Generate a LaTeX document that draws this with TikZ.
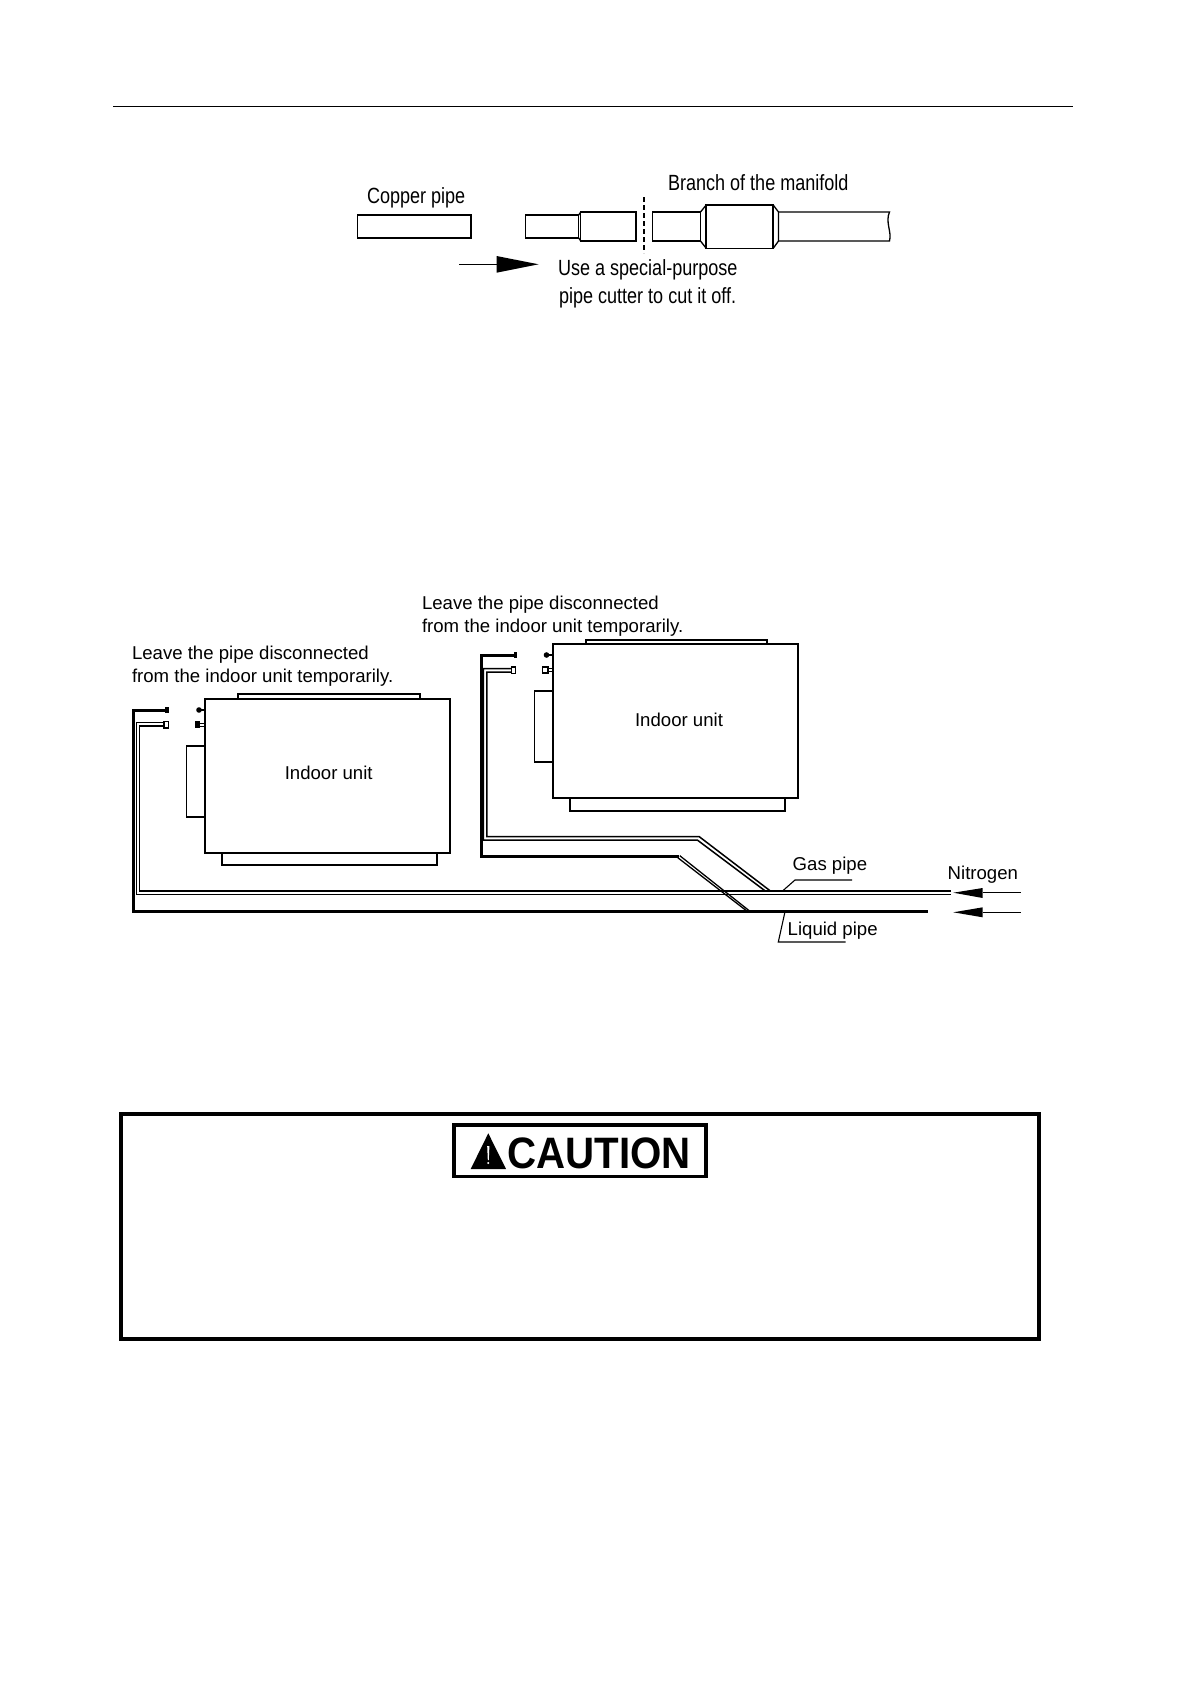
\documentclass[tikz,border=0pt]{standalone}
\usepackage{fontspec}
\setmainfont{Liberation Sans}
\newcommand{\sq}[2]{\scalebox{#1}[1]{#2}}
\tikzset{
  x=1pt,y=-1pt,
  lbl/.style={anchor=base west,inner sep=0pt,outer sep=0pt,font=\fontsize{18.6}{22}\selectfont},
  tall/.style={lbl,font=\fontsize{22}{26}\selectfont},
  clbl/.style={lbl,anchor=base},
  thinl/.style={line width=1.5pt,line join=miter},
  box/.style={line width=1.7pt,draw=black,fill=white},
  heavy/.style={line width=3pt,line join=miter},
  leader/.style={line width=1.1pt}
}
\begin{document}
\begin{tikzpicture}
\fill[white] (0,0) rectangle (1191,1684);
\path[use as bounding box] (0,0) rectangle (1191,1684);
% header rule
\draw[line width=1.1pt] (113,106.5) -- (1073,106.5);

% ---- top sketch
\node[tall] (copper) at (367,203) {\sq{.82}{Copper pipe}};
\node[tall] (branch) at (668,190.5) {\sq{.82}{Branch of the manifold}};
\node[tall] (use) at (558,275.5) {\sq{.82}{Use a special-purpose}};
\node[tall] (cutter) at (559,303) {\sq{.82}{pipe cutter to cut it off.}};
\draw[box,line width=1.3pt] (357.5,215) rectangle (471,238);
\draw[box,line width=1.3pt] (525.6,215) rectangle (578.8,238);
\draw[thinl,line width=1.3pt] (578.8,215) -- (580.7,212) (578.8,238) -- (580.7,241);
\draw[box,line width=1.3pt] (580.7,212) rectangle (636,241);
\draw[line width=1.5pt,dash pattern=on 5pt off 3pt] (644.2,197) -- (644.2,253);
\draw[thinl,line width=1.3pt] (700.5,212) -- (652.2,212) -- (652.2,241) -- (700.5,241) -- cycle;
\draw[thinl,line width=1.3pt] (700.5,212) -- (706.2,205) (700.5,241) -- (706.2,248.3);
\draw[box,line width=1.5pt] (706.2,205) rectangle (773.2,248.3);
\draw[thinl,line width=1.3pt] (773.2,205) -- (778.5,212) (773.2,248.3) -- (778.5,241) (778.5,212) -- (778.5,241);
\draw[thinl,line width=1.3pt] (778.5,212) -- (889.5,212) .. controls (885,222) and (892,232) .. (889.5,241) -- (778.5,241);
\coordinate (a1s) at (459.4,264.3);
\coordinate (a1b) at (496.5,264.3);
\coordinate (a1t) at (538.6,264.3);
\draw[line width=1.2pt] (a1s) -- (a1b);
\fill (496.5,256) -- (a1t) -- (496.5,272.7) -- cycle;

% ---- lower indoor unit
\draw[box] (237.7,694.3) rectangle (419.7,700);
\draw[box] (222,850) rectangle (437,865.3);
\draw[box] (186.6,745.7) rectangle (206,817);
\draw[box] (204.8,698.7) rectangle (450.3,852.7);
\node[clbl] (unitAt) at (328.7,779.3) {Indoor unit};
\draw[line width=2pt] (197,710) -- (204,710);
\fill (199,710) circle (2.8pt);
\draw[line width=1pt] (199,723.2) -- (204,723.2) (199,726.2) -- (204,726.2);
\fill (194.7,721.4) rectangle (200.3,728);

% ---- upper indoor unit
\draw[box] (586.3,640) rectangle (767.3,646);
\draw[box] (570,795) rectangle (784.7,810.7);
\draw[box] (534.6,690.7) rectangle (554,762);
\draw[box] (552.8,644) rectangle (798.3,797.7);
\node[clbl] (unitBt) at (679,726) {Indoor unit};
\draw[line width=2pt] (545,655) -- (552.3,655);
\fill (546.5,655) circle (2.8pt);
\draw[line width=1pt] (547,668.5) -- (552.3,668.5) (547,671.5) -- (552.3,671.5);
\draw[line width=1.5pt,fill=white] (542.5,667.2) rectangle (547.8,672.8);

% ---- gas pipes
\draw[thinl] (165,722.7) -- (136.7,722.7) -- (136.7,894.3) -- (950.7,894.3);
\draw[thinl] (165,726) -- (139.6,726) -- (139.6,891) -- (950.7,891);
\draw[thinl] (512,668.7) -- (483.4,668.7) -- (483.4,840) -- (697.3,840) -- (765.3,891);
\draw[thinl] (512,672) -- (486.8,672) -- (486.8,836.7) -- (699.3,836.7) -- (770,890.7);
\draw[line width=1.5pt,fill=white] (164,721.4) rectangle (168.7,728);
\draw[line width=1.5pt,fill=white] (511.3,667) rectangle (515.7,673.3);

% ---- liquid pipes
\draw[heavy] (166,710) -- (133.4,710) -- (133.4,911.2) -- (928.3,911.2);
\fill (165,706.8) rectangle (169,713.2);
\draw[heavy] (514,655) -- (481,655) -- (481,856.7) -- (679,856.7);
\fill (513.5,652.4) rectangle (517,657.6);
\draw[line width=1.3pt] (679.8,855.7) -- (749.2,910.7);
\draw[line width=1.3pt] (677.8,857.7) -- (746.8,911);

% ---- pipe labels
\node[lbl] (gas) at (792.7,870.7) {Gas pipe};
\node[lbl] (liquid) at (787.7,935) {Liquid pipe};
\node[lbl] (nitrogen) at (947.7,879) {Nitrogen};
\coordinate (g1) at (783.3,890.3);
\coordinate (g2) at (795,880);
\coordinate (g3) at (852,880);
\draw[leader] (g1) -- (g2) -- (g3);
\coordinate (l1) at (785,911.7);
\coordinate (l2) at (778.3,942);
\coordinate (l3) at (845.7,942);
\draw[leader] (l1) -- (l2) -- (l3);
% nitrogen arrows
\coordinate (n1s) at (1020.7,892.7);
\coordinate (n1b) at (982.7,892.7);
\coordinate (n2s) at (1020.7,912.3);
\coordinate (n2b) at (982.7,912.3);
\draw[line width=1.2pt] (n1s) -- (n1b);
\draw[line width=1.2pt] (n2s) -- (n2b);
\fill (982.7,888) -- (953.3,892.7) -- (982.7,898) -- cycle;
\fill (982.7,907.3) -- (953.3,912.3) -- (982.7,917.3) -- cycle;

% ---- notes
\node[lbl] (noteA1) at (132,659) {Leave the pipe disconnected};
\node[lbl] (noteA2) at (132,682) {from the indoor unit temporarily.};
\node[lbl] (noteB1) at (422,609.3) {Leave the pipe disconnected};
\node[lbl] (noteB2) at (422,632.4) {from the indoor unit temporarily.};

% ---- caution
\draw[line width=4pt] (121,1114) rectangle (1039,1339);
\draw[line width=3.6pt] (454,1125) rectangle (706,1176.5);
\fill (488.3,1133.3) -- (506,1169) -- (470.7,1169) -- cycle;
\fill[white] (487.2,1146) -- (489.4,1146) -- (488.8,1160) -- (487.8,1160) -- cycle;
\fill[white] (488.3,1163) circle (1.1pt);
\node[lbl,font=\fontsize{44}{50}\selectfont\bfseries] (caution) at (507.5,1168.5) {\sq{.915}{CAUTION}};
\end{tikzpicture}
\end{document}
